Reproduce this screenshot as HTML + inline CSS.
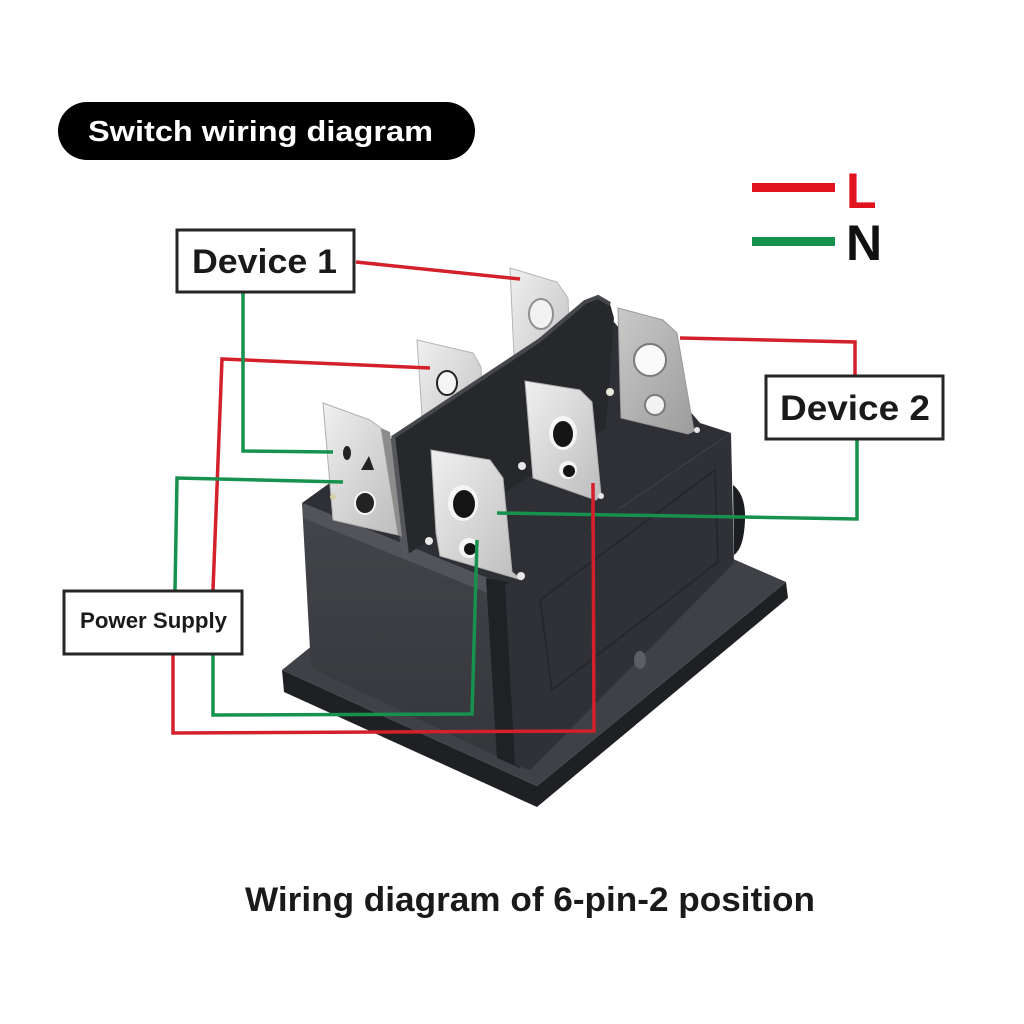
<!DOCTYPE html>
<html>
<head>
<meta charset="utf-8">
<style>
  html,body{margin:0;padding:0;background:#fff;}
  svg{display:block;}
  text{font-family:"Liberation Sans","DejaVu Sans",sans-serif;font-weight:bold;}
</style>
</head>
<body>
<svg width="1024" height="1024" viewBox="0 0 1024 1024" xmlns="http://www.w3.org/2000/svg">
  <defs>
    <linearGradient id="silver" x1="0" y1="0" x2="1" y2="1">
      <stop offset="0" stop-color="#f0f0f0"/>
      <stop offset="0.5" stop-color="#d6d6d6"/>
      <stop offset="1" stop-color="#bdbdbd"/>
    </linearGradient>
    <linearGradient id="silver2" x1="0" y1="0" x2="1" y2="1">
      <stop offset="0" stop-color="#c9c9c9"/>
      <stop offset="1" stop-color="#9c9c9c"/>
    </linearGradient>
    <linearGradient id="front" x1="0" y1="0" x2="0" y2="1">
      <stop offset="0" stop-color="#43454a"/>
      <stop offset="1" stop-color="#34363b"/>
    </linearGradient>
  </defs>
  <rect x="0" y="0" width="1024" height="1024" fill="#ffffff"/>

  <!-- Title pill -->
  <rect x="58" y="102" width="417" height="58" rx="29" ry="29" fill="#000"/>
  <text x="88" y="141" font-size="29" fill="#fff" textLength="345" lengthAdjust="spacingAndGlyphs">Switch wiring diagram</text>

  <!-- Legend -->
  <rect x="752" y="183" width="83" height="9" fill="#e0141e"/>
  <text x="846" y="208" font-size="50" fill="#e0141e">L</text>
  <rect x="752" y="237" width="83" height="9" fill="#17924e"/>
  <text x="846" y="260" font-size="50" fill="#111">N</text>

  <!-- ===== Switch body ===== -->
  <!-- flange side -->
  <polygon points="282,670 284,692 537,807 788,598 786,582 537,786" fill="#1e2024"/>
  <!-- flange top -->
  <polygon points="282,670 530,470 786,582 537,786" fill="#3f4146"/>
  <!-- top surface of box -->
  <polygon points="302,503 505,585 731,433 700,423 614,322 392,438" fill="#2e3035"/>
  <!-- front (left) face -->
  <polygon points="302,503 505,585 515,765 311,668" fill="url(#front)"/>
  <polygon points="302,503 505,585 505,600 303,518" fill="#52545a"/>
  <!-- corner shadow -->
  <polygon points="486,578 510,582 520,768 497,758" fill="#202125"/>
  <!-- right face -->
  <polygon points="505,585 731,433 734,563 530,770 515,765" fill="#2f3136"/>
  <polygon points="540,600 715,470 718,562 552,690" fill="none" stroke="#25272b" stroke-width="2"/>
  <ellipse cx="640" cy="660" rx="6" ry="9" fill="#5c5e63"/>
  <!-- rocker bulge -->
  <path d="M733,485 Q746,495 745,520 Q744,548 734,555 Z" fill="#1c1d20"/>

  <!-- back terminals (behind panel) -->
  <!-- T5 -->
  <polygon points="510,268 557,282 568,298 572,400 516,400" fill="url(#silver)" stroke="#b5b5b5" stroke-width="1"/>
  <ellipse cx="541" cy="314" rx="12" ry="15" fill="#f2f2f2" stroke="#8f8f8f" stroke-width="2"/>
  <!-- T4 -->
  <polygon points="417,340 473,353 481,367 486,460 424,445" fill="url(#silver)" stroke="#b5b5b5" stroke-width="1"/>
  <ellipse cx="447" cy="383" rx="10" ry="12" fill="#f5f5f5" stroke="#222" stroke-width="2"/>

  <!-- panel -->
  <polygon points="392,438 540,340 585,302 598,297 610,304 614,318 606,428 405,556" fill="#27282c"/>
  <polyline points="392,438 540,340 585,302 598,297 610,304" fill="none" stroke="#45474c" stroke-width="4"/>
  <polygon points="388,440 395,436 409,555 402,558" fill="#55575c"/>

  <!-- T6 -->
  <polygon points="618,308 663,320 677,333 694,431 688,434 621,418 620,387" fill="url(#silver2)" stroke="#9a9a9a" stroke-width="1"/>
  <ellipse cx="650" cy="360" rx="16" ry="16" fill="#fafafa" stroke="#7a7a7a" stroke-width="2"/>
  <ellipse cx="655" cy="405" rx="10" ry="10" fill="#f2f2f2" stroke="#7a7a7a" stroke-width="2"/>

  <!-- T3 -->
  <polygon points="525,381 580,390 592,402 601,495 596,500 533,478" fill="url(#silver)" stroke="#b0b0b0" stroke-width="1"/>
  <ellipse cx="563" cy="433" rx="14" ry="17" fill="#f5f5f5"/>
  <ellipse cx="563" cy="434" rx="10" ry="13" fill="#151515"/>
  <ellipse cx="568" cy="470" rx="9" ry="9" fill="#f5f5f5"/>
  <ellipse cx="569" cy="471" rx="6" ry="6" fill="#151515"/>

  <!-- T1 -->
  <polygon points="323,403 370,420 381,428 398,535 333,520" fill="url(#silver)" stroke="#b0b0b0" stroke-width="1"/>
  <polygon points="381,428 390,432 402,537 398,535" fill="#8c8c8c"/>
  <ellipse cx="347" cy="453" rx="4" ry="7" fill="#222"/>
  <polygon points="361,470 369,456 374,470" fill="#222"/>
  <ellipse cx="365" cy="503" rx="10" ry="11" fill="#222" stroke="#f4f4f4" stroke-width="2"/>

  <!-- T2 -->
  <polygon points="431,450 490,460 503,478 512,572 522,580 440,556 436,533" fill="url(#silver)" stroke="#b0b0b0" stroke-width="1"/>
  <ellipse cx="463" cy="503" rx="15" ry="18" fill="#f5f5f5"/>
  <ellipse cx="464" cy="504" rx="11" ry="14" fill="#151515"/>
  <ellipse cx="469" cy="548" rx="10" ry="10" fill="#f5f5f5"/>
  <ellipse cx="470" cy="549" rx="6" ry="6" fill="#151515"/>

  <!-- small pins -->
  <circle cx="610" cy="392" r="4" fill="#e8e8d8"/>
  <circle cx="522" cy="466" r="4" fill="#e8e8e8"/>
  <circle cx="429" cy="541" r="4" fill="#e8e8e8"/>
  <circle cx="521" cy="576" r="4" fill="#e8e8e8"/>
  <circle cx="601" cy="496" r="3" fill="#e8e8e8"/>
  <circle cx="697" cy="430" r="3" fill="#e8e8e8"/>
  <circle cx="333" cy="497" r="3" fill="#d8cfa8"/>

  <!-- ===== Wires ===== -->
  <g fill="none" stroke="#d3202a" stroke-width="3.5" stroke-linejoin="miter">
    <polyline points="356,262 520,279"/>
    <polyline points="430,368 222,359 213,590"/>
    <polyline points="173,655 173,733 594,731 593,483"/>
    <polyline points="680,338 855,342 855,375"/>
  </g>
  <g fill="none" stroke="#17924e" stroke-width="3.5" stroke-linejoin="miter">
    <polyline points="243,293 243,451 333,452"/>
    <polyline points="343,482 177,478 175,590"/>
    <polyline points="213,655 213,715 472,714 477,540"/>
    <polyline points="497,513 857,519 857,440"/>
  </g>
  <!-- red over green at crossing -->
  <line x1="593" y1="505" x2="593" y2="530" stroke="#d3202a" stroke-width="3.5"/>

  <!-- ===== Boxes ===== -->
  <rect x="177" y="230" width="177" height="62" fill="#fff" stroke="#262626" stroke-width="3"/>
  <text x="192" y="273" font-size="34" fill="#1a1a1a" textLength="145" lengthAdjust="spacingAndGlyphs">Device 1</text>

  <rect x="766" y="376" width="177" height="63" fill="#fff" stroke="#262626" stroke-width="3"/>
  <text x="780" y="420" font-size="35" fill="#1a1a1a" textLength="150" lengthAdjust="spacingAndGlyphs">Device 2</text>

  <rect x="64" y="591" width="178" height="63" fill="#fff" stroke="#262626" stroke-width="3"/>
  <text x="80" y="628" font-size="22" fill="#1a1a1a" textLength="147" lengthAdjust="spacingAndGlyphs">Power Supply</text>

  <!-- Caption -->
  <text x="245" y="911" font-size="34" fill="#1a1a1a" textLength="570" lengthAdjust="spacingAndGlyphs">Wiring diagram of 6-pin-2 position</text>
</svg>
</body>
</html>
